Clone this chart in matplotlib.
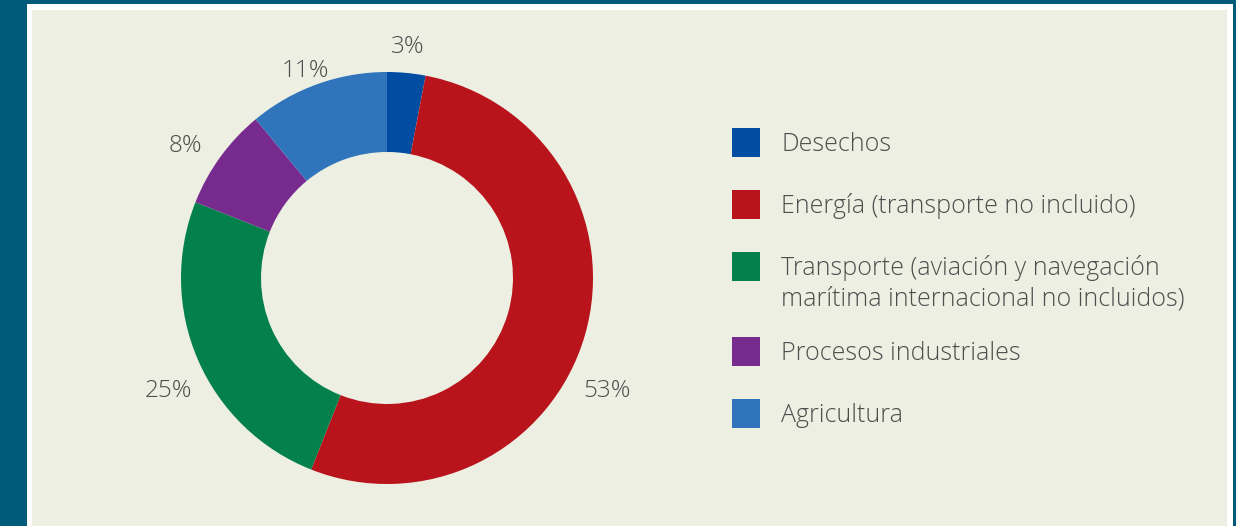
import matplotlib
matplotlib.use('Agg')
import matplotlib.pyplot as plt
from matplotlib.patches import Rectangle

# Data
categories = ["Desechos",
              "Energía (transporte no incluido)",
              "Transporte (aviación y navegación\nmarítima internacional no incluidos)",
              "Procesos industriales",
              "Agricultura"]
shares = [3, 53, 25, 8, 11]
pct_labels = ["3%", "53%", "25%", "8%", "11%"]
colors = ["#024da1", "#b9131b", "#03804b", "#782b8e", "#3075bc"]

W, H = 1236, 526
TEAL = "#005b7b"
BEIGE = "#ecefe2"
TEXT = "#4d4d4d"
FONT = ['Open Sans', 'DejaVu Sans']

fig = plt.figure(figsize=(W / 100, H / 100), dpi=100, facecolor=TEAL)
ax = fig.add_axes([0, 0, 1, 1])

# frame: white line, then beige panel (y measured from the top)
def box(x0, y0, x1, y1, color):
    ax.add_patch(Rectangle((x0, H - y1), x1 - x0, y1 - y0, facecolor=color,
                           edgecolor='none', zorder=0))

box(27, 4, 1233, H, "white")
box(32, 10, 1227, H, BEIGE)

# donut
cx, cy = 387, H - 278
r_out, r_in = 206, 126
ax.pie(shares, colors=colors, startangle=90, counterclock=False,
       center=(cx, cy), radius=r_out,
       wedgeprops=dict(width=r_out - r_in, edgecolor='none', zorder=2))

# percentage labels, baseline positions (px from top-left)
label_pos = [(408, 53), (607, 397), (168, 397), (185, 152), (305, 77)]
for txt, (x, y) in zip(pct_labels, label_pos):
    ax.text(x, H - y, txt, ha='center', va='baseline', fontsize=17.5,
            color=TEXT, family=FONT, fontweight='light', zorder=3)

# legend drawn by hand
row_y = [142.5, 204.5, 266.5, 351.5, 413.5]
for name, col, y in zip(categories, colors, row_y):
    ax.add_patch(Rectangle((732, H - y - 14.5), 28, 29, facecolor=col,
                           edgecolor='none', zorder=3))
    for i, line in enumerate(name.split('\n')):
        ax.text(781, H - (y + 8.5 + i * 30), line, ha='left', va='baseline',
                fontsize=18, color=TEXT, family=FONT, fontweight='light',
                zorder=3)

ax.set_xlim(0, W)
ax.set_ylim(0, H)
ax.set_aspect('auto')
ax.axis('off')

fig.savefig("out.png", dpi=100, facecolor=TEAL)
